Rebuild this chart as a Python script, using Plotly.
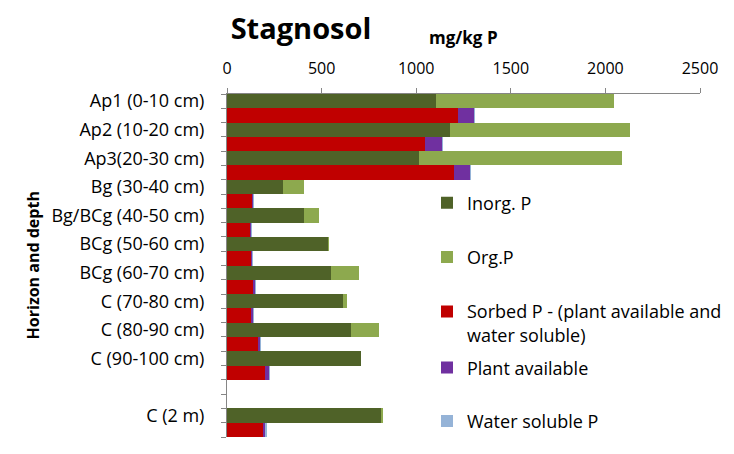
import plotly.graph_objects as go

horizons = ["Ap1 (0-10 cm)", "Ap2 (10-20 cm)", "Ap3(20-30 cm)", "Bg (30-40 cm)",
            "Bg/BCg (40-50 cm)", "BCg (50-60 cm)", "BCg (60-70 cm)", "C (70-80 cm)",
            "C (80-90 cm)", "C (90-100 cm)", "", "C (2 m)"]
inorg_p = [1104, 1177, 1014, 295, 406, 534, 549, 612, 653, 707, None, 813]
org_p = [942, 954, 1074, 111, 79, 3, 148, 22, 149, 0, None, 11]
sorbed_p = [1221, 1048, 1201, 136, 125, 128, 138, 125, 163, 200, None, 189]
plant_avail = [86, 90, 85, 2, 5, 6, 10, 14, 16, 22, None, 17]
water_sol = [1, 1, 1, 0.5, 0.5, 0.5, 0.5, 0.5, 0.5, 0.5, None, 0.5]

x_ticks = [0, 500, 1000, 1500, 2000, 2500]

FONT = "Open Sans"
top_rows = [2 * i for i in range(len(horizons))]
bot_rows = [2 * i + 1 for i in range(len(horizons))]
n_rows = 2 * len(horizons)

fig = go.Figure()
def add(vals, rows, name, color, legend):
    fig.add_trace(go.Bar(x=vals, y=rows, orientation="h", name=name,
                         marker=dict(color=color, line=dict(width=0)),
                         width=1, legendgroup=name, legend=legend))

add(inorg_p, top_rows, "Inorg. P", "#4F6228", "legend")
add(org_p, top_rows, "Org.P", "#8DA94E", "legend")
add(sorbed_p, bot_rows, "Sorbed P - (plant available and<br>water soluble)", "#C00000", "legend")
add(plant_avail, bot_rows, "Plant available", "#7030A0", "legend2")
add(water_sol, bot_rows, "Water soluble P", "#95B3D7", "legend2")

# page body offset compensation
OFF = 8
FW, FH = 734 - OFF, 454 - OFF
L = 227 - OFF
T = 93.5 - OFF
R = FW - (700 - OFF)
B = FH - (436.7 - OFF)
H = FH - T - B
W = FW - L - R
def px_x(p): return (p - OFF - L) / W
def px_y(p): return 1 - (p - OFF - T) / H

fig.update_layout(
    width=FW, height=FH,
    margin=dict(l=L, r=R, t=T, b=B, pad=0, autoexpand=False),
    paper_bgcolor="white", plot_bgcolor="white",
    barmode="stack", bargap=0,
    font=dict(family=FONT, size=17, color="#000000"),
    title=dict(text="Stagnosol", x=(301 - OFF) / FW, xanchor="center", xref="container",
               y=1 - (29 - OFF) / FH, yanchor="middle", yref="container",
               font=dict(family=FONT, size=29, weight=700, color="#000000")),
    xaxis=dict(side="top", range=[0, 2500], tickvals=x_ticks, ticks="outside",
               ticklen=5, tickcolor="#868686", showline=True, linecolor="#868686",
               linewidth=1, showgrid=False, zeroline=False, automargin=False,
               tickfont=dict(size=16), ticklabelstandoff=8),
    yaxis=dict(range=[n_rows - 0.5, -0.5], tickvals=top_rows, ticktext=horizons,
               ticks="", showline=True, linecolor="#868686", linewidth=1,
               showgrid=False, zeroline=False, automargin=False,
               tickfont=dict(size=18), ticklabelstandoff=18,
               minor=dict(tickvals=[k - 0.5 for k in range(n_rows + 1)],
                          ticks="outside", ticklen=5, tickcolor="#868686",
                          showgrid=False)),
    legend=dict(x=px_x(427), xanchor="left", y=px_y(184), yanchor="top",
                valign="top", tracegroupgap=28, font=dict(size=18),
                bgcolor="rgba(0,0,0,0)"),
    legend2=dict(x=px_x(427), xanchor="left", y=px_y(349), yanchor="top",
                 valign="top", tracegroupgap=27, font=dict(size=18),
                 bgcolor="rgba(0,0,0,0)"),
    annotations=[
        dict(text="mg/kg P", x=px_x(463), y=px_y(37), xref="paper", yref="paper",
             xanchor="center", yanchor="middle", showarrow=False,
             font=dict(family=FONT, size=17, weight=700)),
        dict(text="Horizon and depth", x=px_x(33), y=px_y(265), xref="paper",
             yref="paper", xanchor="center", yanchor="middle", textangle=-90,
             showarrow=False, font=dict(family=FONT, size=16, weight=700)),
    ],
)

fig.write_html("out.html")
